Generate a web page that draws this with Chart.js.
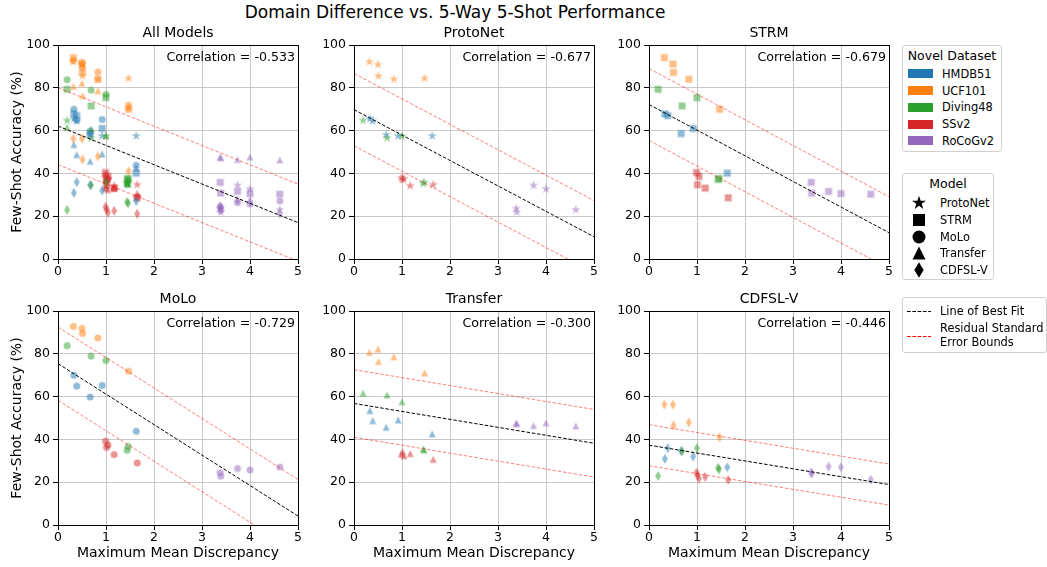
<!DOCTYPE html>
<html>
<head>
<meta charset="utf-8">
<script src="https://cdn.jsdelivr.net/npm/chart.js@4.4.1/dist/chart.umd.min.js"></script>
<style>
  body { margin: 0; width: 1047px; height: 567px; overflow: hidden; background: #fff; position: relative;
         font-family: 'DejaVu Sans', sans-serif; color: #000; }
  canvas.panel { position: absolute; }
  #suptitle { position: absolute; left: 0; width: 910px; top: 0; line-height: 24px; text-align: center; font-size: 17px; }
  .legend { position: absolute; border: 1px solid #d0d0d0; border-radius: 3px; background: #fff; box-sizing: border-box; }
  .legend .ttl { position: absolute; left: 0; right: 0; text-align: center; font-size: 12.5px; line-height: 16px; }
  .legend .item { position: absolute; font-size: 11.4px; line-height: 16px; white-space: nowrap; }
  .legend .patch { position: absolute; width: 25px; height: 9px; }
  .legend canvas, .legend svg { position: absolute; }
</style>
</head>
<body>
<div id="suptitle">Domain Difference vs. 5-Way 5-Shot Performance</div>
<div class="legend" id="leg-dataset" style="left:902px;top:45px;width:100px;height:107px;">
  <div class="ttl" style="top:2px;">Novel Dataset</div>
</div>
<div class="legend" id="leg-model" style="left:902px;top:173px;width:92px;height:107px;">
  <div class="ttl" style="top:2px;">Model</div>
</div>
<div class="legend" id="leg-lines" style="left:902px;top:297px;width:145px;height:56px;">
  <svg style="left:4px;top:12px;" width="24" height="3"><line x1="0" y1="1.5" x2="24" y2="1.5" stroke="#000" stroke-width="1" stroke-dasharray="3.7 1.6"/></svg>
  <div class="item" style="left:37px;top:5px;">Line of Best Fit</div>
  <svg style="left:4px;top:37px;" width="24" height="3"><line x1="0" y1="1.5" x2="24" y2="1.5" stroke="#ff0000" stroke-width="1" stroke-dasharray="3.7 1.6"/></svg>
  <div class="item" style="left:37px;top:24px;line-height:13.5px;">Residual Standard<br>Error Bounds</div>
</div>
<script>
const DATASETS = ['HMDB51', 'UCF101', 'Diving48', 'SSv2', 'RoCoGv2'];
const COLORS = ['31,119,180', '255,127,14', '44,160,44', '214,39,40', '148,103,189'];
const MODELS = ['ProtoNet', 'STRM', 'MoLo', 'Transfer', 'CDFSL-V'];
const MARKERS = ['star', 'square', 'circle', 'triangle', 'thinDiamond'];

// MMD between each source and the novel dataset (same for every model)
const MMD = [
  [0.33, 0.39, 0.67, 0.92, 1.63],  // HMDB51
  [0.32, 0.50, 0.51, 0.83, 1.47],  // UCF101
  [0.19, 0.69, 1.00, 1.44, 1.46],  // Diving48
  [0.99, 1.01, 1.04, 1.17, 1.65],  // SSv2
  [3.38, 3.39, 3.74, 4.00, 4.62]   // RoCoGv2
];

// few-shot accuracy (%), rows follow DATASETS, columns follow MMD
const ACC_PROTONET = [
  [65.6, 64.4, 58.0, 57.5, 57.5],
  [92.1, 90.8, 85.5, 84.0, 84.4],
  [64.7, 56.5, 57.4, 35.3, 35.8],
  [38.0, 36.9, 37.5, 34.2, 34.7],
  [23.6, 21.9, 34.4, 32.7, 23.0]
];
const ACC_STRM = [
  [67.8, 67.0, 58.6, 61.0, 40.1],
  [94.1, 91.1, 87.2, 84.0, 70.0],
  [79.3, 71.5, 75.4, 37.2, 37.6],
  [40.4, 34.7, 38.6, 33.1, 28.6],
  [35.8, 30.8, 31.6, 30.6, 30.3]
];
const ACC_MOLO = [
  [70.0, 64.9, 59.8, 65.2, 43.8],
  [92.8, 91.9, 89.5, 87.4, 71.9],
  [83.8, 78.9, 76.9, 34.9, 36.7],
  [39.2, 36.3, 37.4, 32.9, 29.0],
  [24.5, 22.8, 26.4, 25.7, 27.1]
];
const ACC_TRANSFER = [
  [53.5, 48.8, 45.7, 49.1, 42.6],
  [80.7, 82.2, 76.4, 78.6, 71.1],
  [61.6, 60.8, 57.6, 35.6, 35.0],
  [33.2, 34.3, 32.4, 33.4, 30.7],
  [47.7, 47.3, 46.5, 47.7, 46.3]
];
const ACC_CDFSLV = [
  [30.9, 35.9, 34.6, 32.0, 27.0],
  [56.3, 56.3, 46.5, 47.9, 41.0],
  [22.9, 34.5, 35.9, 26.7, 26.0],
  [24.5, 23.2, 21.7, 22.5, 21.1],
  [24.7, 23.9, 27.3, 27.0, 21.2]
];
const ACC = [ACC_PROTONET, ACC_STRM, ACC_MOLO, ACC_TRANSFER, ACC_CDFSLV];

const PANELS = ['All Models', 'ProtoNet', 'STRM', 'MoLo', 'Transfer', 'CDFSL-V'];
const CORRELATION = ['-0.533', '-0.677', '-0.679', '-0.729', '-0.300', '-0.446'];
const FIT_INTERCEPT = [62.1, 69.8, 72.2, 75.4, 56.8, 37.3];
const FIT_SLOPE = [-9.02, -11.88, -11.98, -14.24, -3.72, -3.68];
const FIT_RSE = [18.0, 16.9, 16.8, 17.1, 15.8, 9.6];

const GRID = '#c8c8c8';
const MARKER_SIZE = 7;

Chart.defaults.font.family = "'DejaVu Sans', sans-serif";
Chart.defaults.font.size = 12.5;
Chart.defaults.color = '#000';

const markerCache = {};

function drawShape(ctx, shape, size) {
  const r = size / 2;
  ctx.beginPath();
  if (shape === 'circle') {
    ctx.arc(0, 0, r, 0, Math.PI * 2);
  } else if (shape === 'square') {
    ctx.rect(-r, -r, size, size);
  } else if (shape === 'triangle') {
    ctx.moveTo(0, -r); ctx.lineTo(r, r); ctx.lineTo(-r, r); ctx.closePath();
  } else if (shape === 'thinDiamond') {
    const h = r * Math.SQRT2;
    ctx.moveTo(0, -h); ctx.lineTo(0.6 * h, 0); ctx.lineTo(0, h); ctx.lineTo(-0.6 * h, 0); ctx.closePath();
  } else if (shape === 'star') {
    // matplotlib's star is drawn a bit larger than the other markers
    const rs = r * 1.4;
    for (let i = 0; i < 10; i++) {
      const rr = i % 2 ? rs * 0.381966 : rs;
      const a = -Math.PI / 2 + i * Math.PI / 5;
      ctx.lineTo(rr * Math.cos(a), rr * Math.sin(a));
    }
    ctx.closePath();
  }
  ctx.fill();
}

function makeMarker(shape, fill, size) {
  const key = shape + fill + size;
  if (markerCache[key]) return markerCache[key];
  const c = document.createElement('canvas');
  const n = 2 * Math.ceil(size * 0.8) + 2;
  c.width = n; c.height = n;
  const ctx = c.getContext('2d');
  ctx.fillStyle = fill;
  ctx.translate(n / 2, n / 2);
  drawShape(ctx, shape, size);
  markerCache[key] = c;
  return c;
}

// frame on all four sides plus correlation label
const framePlugin = {
  id: 'frame',
  afterDraw(chart, args, opts) {
    const { ctx, chartArea: a } = chart;
    ctx.save();
    ctx.strokeStyle = '#000';
    ctx.lineWidth = 1;
    ctx.strokeRect(a.left + 0.5, a.top + 0.5, a.right - a.left, a.bottom - a.top);
    ctx.font = "12.6px 'DejaVu Sans', sans-serif";
    ctx.fillStyle = '#000';
    ctx.textAlign = 'right';
    ctx.textBaseline = 'middle';
    ctx.fillText(opts.text, a.right - 3, a.top + 12.5);
    ctx.restore();
  }
};

const COL_LEFT = [0, 314, 609];
const COL_AXIS = [58, 40, 40];
const ROW_TOP = [25, 291];
const ROW_XAXIS = [25, 45];
const PLOT_W = 240, PLOT_H = 214, TITLE_H = 20, PAD_R = 10;

function buildPanel(p) {
  const col = p % 3, row = Math.floor(p / 3);
  const canvas = document.createElement('canvas');
  canvas.className = 'panel';
  canvas.width = COL_AXIS[col] + PLOT_W + PAD_R;
  canvas.height = TITLE_H + PLOT_H + ROW_XAXIS[row];
  canvas.style.left = COL_LEFT[col] + 'px';
  canvas.style.top = ROW_TOP[row] + 'px';
  document.body.appendChild(canvas);

  const models = p === 0 ? [0, 1, 2, 3, 4] : [p - 1];
  const datasets = [];
  let k = 0;
  models.forEach(m => {
    DATASETS.forEach((name, d) => {
      datasets.push({
        label: MODELS[m] + ' ' + name,
        data: MMD[d].map((x, j) => ({ x: x, y: ACC[m][d][j] })),
        pointStyle: makeMarker(MARKERS[m], 'rgba(' + COLORS[d] + ',0.5)', MARKER_SIZE),
        pointRadius: 4,
        order: 1000 - k++
      });
    });
  });

  const b = FIT_INTERCEPT[p], s = FIT_SLOPE[p], e = FIT_RSE[p];
  const fitLine = (off, color) => ({
    data: [{ x: 0, y: b + off }, { x: 5, y: b + off + 5 * s }],
    showLine: true,
    pointRadius: 0,
    borderColor: color,
    borderWidth: 1,
    borderDash: [3.5, 1.8],
    order: 0
  });
  datasets.push(fitLine(0, '#000'));
  datasets.push(fitLine(e, 'rgba(255,0,0,0.5)'));
  datasets.push(fitLine(-e, 'rgba(255,0,0,0.5)'));

  new Chart(canvas, {
    type: 'scatter',
    data: { datasets: datasets },
    plugins: [framePlugin],
    options: {
      responsive: false,
      animation: false,
      events: [],
      layout: { padding: { top: 0, right: PAD_R, bottom: 0, left: 0 } },
      plugins: {
        legend: { display: false },
        tooltip: { enabled: false },
        title: {
          display: true,
          text: PANELS[p],
          fullSize: false,
          color: '#000',
          font: { size: 14, weight: 'normal' },
          padding: { top: 0, bottom: 3.2 }
        },
        frame: { text: 'Correlation = ' + CORRELATION[p] }
      },
      scales: {
        x: {
          type: 'linear',
          min: 0,
          max: 5,
          ticks: { stepSize: 1, color: '#000', padding: 0 },
          grid: { color: GRID, tickColor: '#000', tickLength: 5 },
          border: { color: '#000' },
          title: {
            display: row === 1,
            text: 'Maximum Mean Discrepancy',
            color: '#000',
            font: { size: 14 },
            padding: { top: 0, bottom: 8 }
          },
          afterFit: sc => { sc.height = ROW_XAXIS[row]; }
        },
        y: {
          type: 'linear',
          min: 0,
          max: 100,
          ticks: { stepSize: 20, color: '#000', padding: 3 },
          grid: { color: GRID, tickColor: '#000', tickLength: 5 },
          border: { color: '#000' },
          title: {
            display: col === 0,
            text: 'Few-Shot Accuracy (%)',
            color: '#000',
            font: { size: 14 },
            padding: { top: 9, bottom: 0 }
          },
          afterFit: sc => { sc.width = COL_AXIS[col]; }
        }
      }
    }
  });
}

function buildLegends() {
  const legData = document.getElementById('leg-dataset');
  DATASETS.forEach((name, i) => {
    const y = 27.7 + i * 16.8;
    const patch = document.createElement('div');
    patch.className = 'patch';
    patch.style.left = '5px';
    patch.style.top = (y - 4.5) + 'px';
    patch.style.background = 'rgb(' + COLORS[i] + ')';
    legData.appendChild(patch);
    const txt = document.createElement('div');
    txt.className = 'item';
    txt.style.left = '39px';
    txt.style.top = (y - 8) + 'px';
    txt.textContent = name;
    legData.appendChild(txt);
  });

  const legModel = document.getElementById('leg-model');
  const legendSizes = [10.5, 12, 13, 13, 11];
  MODELS.forEach((name, i) => {
    const y = 28.7 + i * 16.9;
    const mk = makeMarker(MARKERS[i], '#000', legendSizes[i]);
    const c = document.createElement('canvas');
    c.width = mk.width; c.height = mk.height;
    c.getContext('2d').drawImage(mk, 0, 0);
    c.style.left = (16 - mk.width / 2) + 'px';
    c.style.top = (y - mk.height / 2) + 'px';
    legModel.appendChild(c);
    const txt = document.createElement('div');
    txt.className = 'item';
    txt.style.left = '37px';
    txt.style.top = (y - 8) + 'px';
    txt.textContent = name;
    legModel.appendChild(txt);
  });
}

for (let p = 0; p < PANELS.length; p++) buildPanel(p);
buildLegends();
</script>
</body>
</html>
